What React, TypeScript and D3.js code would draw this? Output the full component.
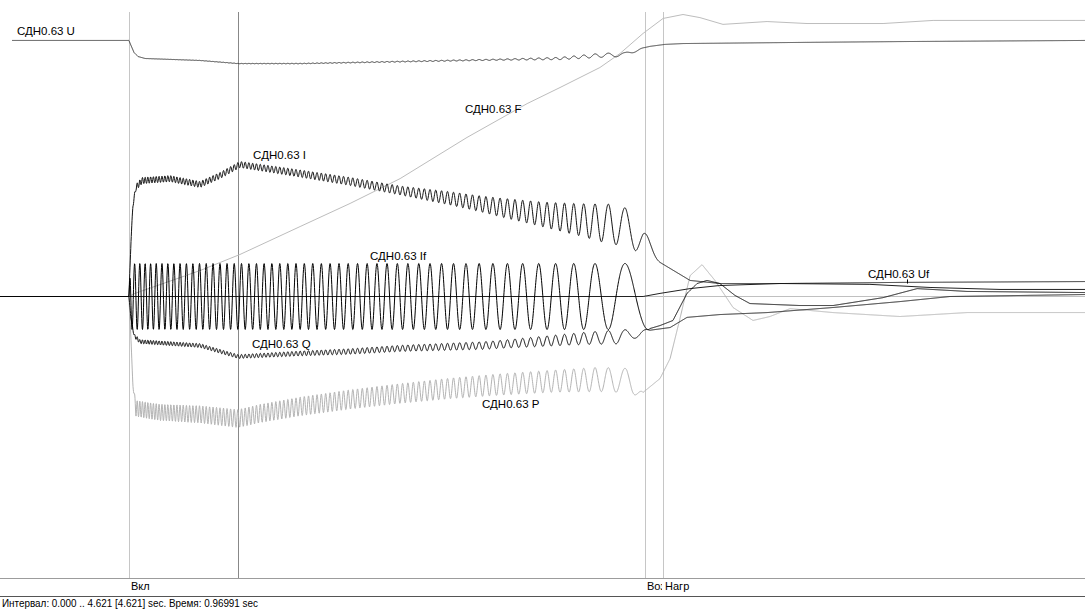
import { useMemo } from "react";
import * as d3 from "d3";

const width = 1085;
const height = 610;
const plot = { top: 12, bottom: 578 };
const tEnd = 4.621;
const dt = tEnd / width / 4;

// markers along the time axis (sec)
const markerTimes = [0.549, 1.014, 2.747, 2.824];
const markerLabels = ["Вкл", "", "Возб", "Нагр"];
const markerColors = ["#c6c6c6", "#888888", "#c6c6c6", "#c6c6c6"];

// switching on / pull into synchronism
const tOn = 0.549;
const tSync = 2.768;
const tAnchor = 2.662; // last If maximum

// If slip period (sec)
const ifPeriodT = [0.549, 0.809, 1.065, 1.384, 1.704, 1.917, 2.13, 2.342, 2.449, 2.534, 2.619, 2.726];
const ifPeriod = [0.0213, 0.0277, 0.0319, 0.0371, 0.0447, 0.0511, 0.0618, 0.0724, 0.0809, 0.1022, 0.1363, 0.213];
const ifAmpT = [0.549, 0.556, 4.621];
const ifAmp = [0, 0.117, 0.117];
// If after synchronism
const ifPostT = [2.768, 2.811, 2.866, 2.926, 2.969, 3.011, 3.066, 3.13, 3.194, 3.407, 3.548, 3.761, 3.906, 4.118, 4.621];
const ifPost = [-0.113, -0.103, -0.085, 0.011, 0.046, 0.057, 0.046, 0.004, -0.025, -0.032, -0.032, -0.004, 0.028, 0.018, 0.014];

// U
const uT = [0.051, 0.549, 0.558, 0.571, 0.588, 0.618, 0.852, 1.014, 1.278, 1.704, 2.13, 2.385, 2.555, 2.662, 2.726, 2.768, 2.832, 2.909, 3.407, 3.833, 4.621];
const uV = [0.908, 0.908, 0.89, 0.865, 0.851, 0.844, 0.837, 0.826, 0.826, 0.833, 0.84, 0.844, 0.855, 0.858, 0.879, 0.887, 0.894, 0.897, 0.901, 0.904, 0.908];
const uRipT = [0.549, 2.13, 2.385, 2.555, 2.69, 2.747];
const uRip = [0.0, 0.002, 0.004, 0.007, 0.007, 0];

// F
const fT = [0, 0.549, 0.575, 0.852, 1.022, 1.278, 1.491, 1.704, 1.989, 2.245, 2.385, 2.555, 2.641, 2.739, 2.824, 2.909, 2.981, 3.079, 3.267, 3.437, 3.761, 3.974, 4.621];
const fV = [0, 0, 0.011, 0.092, 0.149, 0.248, 0.33, 0.418, 0.564, 0.684, 0.741, 0.812, 0.862, 0.933, 0.986, 1.0, 0.989, 0.965, 0.975, 0.968, 0.968, 0.979, 0.979];

// I
const iT = [0, 0.549, 0.558, 0.566, 0.579, 0.605, 0.724, 0.852, 0.937, 1.022, 1.278, 1.491, 1.704, 1.917, 2.13, 2.342, 2.555, 2.662, 2.739, 2.781, 2.811, 2.939, 3.066, 3.322, 3.833, 4.621];
const iV = [0, 0, 0.199, 0.323, 0.387, 0.411, 0.418, 0.397, 0.429, 0.468, 0.436, 0.408, 0.376, 0.348, 0.316, 0.287, 0.262, 0.248, 0.209, 0.156, 0.121, 0.057, 0.046, 0.046, 0.05, 0.053];
const iRipT = [0.549, 0.579, 1.022, 1.704, 2.045, 2.3, 2.47, 2.598, 2.705, 2.768, 2.811];
const iRip = [0, 0.011, 0.011, 0.016, 0.028, 0.043, 0.057, 0.071, 0.064, 0.02, 0];

// Q
const qT = [0, 0.549, 0.558, 0.571, 0.596, 0.852, 1.014, 1.278, 1.491, 1.704, 2.057, 2.483, 2.653, 2.756, 2.854, 2.926, 3.066, 3.267, 3.548, 3.833, 4.046, 4.621];
const qV = [0, 0, -0.078, -0.138, -0.16, -0.174, -0.213, -0.202, -0.195, -0.184, -0.174, -0.149, -0.142, -0.121, -0.11, -0.074, -0.064, -0.057, -0.039, -0.018, 0, 0.007];
const qRipT = [0.549, 0.579, 1.022, 1.704, 2.13, 2.47, 2.641, 2.726, 2.768];
const qRip = [0, 0.007, 0.007, 0.011, 0.014, 0.021, 0.025, 0.014, 0];

// P
const pT = [0, 0.549, 0.558, 0.566, 0.579, 0.681, 0.852, 1.014, 1.107, 1.278, 1.491, 1.704, 1.917, 2.13, 2.342, 2.555, 2.67, 2.739, 2.811, 2.854, 2.896, 2.939, 2.99, 3.045, 3.122, 3.207, 3.279, 3.365, 3.548, 3.833, 4.118, 4.621];
const pV = [0, 0, -0.156, -0.316, -0.397, -0.411, -0.418, -0.433, -0.415, -0.39, -0.365, -0.344, -0.326, -0.312, -0.301, -0.294, -0.298, -0.34, -0.291, -0.22, -0.078, 0.074, 0.113, 0.057, -0.039, -0.085, -0.071, -0.043, -0.057, -0.071, -0.057, -0.057];
const pRipT = [0.566, 0.579, 1.022, 1.704, 2.342, 2.555, 2.69, 2.739];
const pRip = [0, 0.028, 0.032, 0.035, 0.039, 0.043, 0.043, 0];

// Uf
const ufT = [0, 2.739, 2.811, 2.939, 3.066, 3.322, 3.705, 3.961, 4.259, 4.621];
const ufV = [0, 0, 0.011, 0.028, 0.039, 0.046, 0.043, 0.032, 0.025, 0.025];

// trace labels: name, time, value of baseline
const labelNames = ["СДН0.63 U", "СДН0.63 F", "СДН0.63 I", "СДН0.63 If", "СДН0.63 Uf", "СДН0.63 Q", "СДН0.63 P"];
const labelTimes = [0.072, 1.98, 1.078, 1.576, 3.697, 1.073, 2.053];
const labelValues = [0.926, 0.652, 0.489, 0.128, 0.064, -0.181, -0.397];

const statusText = "Интервал: 0.000 .. 4.621 [4.621] sec.  Время: 0.96991 sec";

const interp = (ts: number[], vs: number[]) =>
  d3.scaleLinear().domain(ts).range(vs).clamp(true);

const App = () => {
  const x = d3.scaleLinear().domain([0, tEnd]).range([0, width]);
  // half-pixel offset keeps the flat lines crisp
  const y = d3.scaleLinear().domain([-1, 1]).range([plot.bottom + 0.5, 14.5]);

  const traces = useMemo(() => {
    const times = d3.range(0, tEnd + dt / 2, dt);
    const periodAt = interp(ifPeriodT, ifPeriod);
    const phi: number[] = [0];
    for (let i = 1; i < times.length; i++) {
      phi.push(phi[i - 1] + (2 * Math.PI * dt) / periodAt(times[i] - dt / 2));
    }
    const a = phi[Math.round(tAnchor / dt)];
    const ph = phi.map((p) => p - a);

    const ripple = (mt: number[], mv: number[], rt: number[], rv: number[], t0 = 0) => {
      const m = interp(mt, mv);
      const r = interp(rt, rv);
      return times
        .map((t, i) => [t, m(t) + r(t) * Math.cos(2 * ph[i])] as [number, number])
        .filter((d) => d[0] >= t0);
    };

    const ampAt = interp(ifAmpT, ifAmp);
    const iSync = Math.round(tSync / dt);
    const vSync = ampAt(tSync) * Math.cos(ph[iSync]);
    const post = interp(ifPostT, [vSync, ...ifPost.slice(1)]);
    const ifData = times.map((t, i) => {
      if (t < tOn) return [t, 0] as [number, number];
      if (i < iSync) return [t, ampAt(t) * Math.cos(ph[i])] as [number, number];
      return [t, post(t)] as [number, number];
    });

    const simple = (ts: number[], vs: number[]) => ts.map((t, i) => [t, vs[i]] as [number, number]);

    return {
      u: ripple(uT, uV, uRipT, uRip, uT[0]),
      f: simple(fT, fV),
      i: ripple(iT, iV, iRipT, iRip),
      q: ripple(qT, qV, qRipT, qRip),
      p: ripple(pT, pV, pRipT, pRip),
      uf: simple(ufT, ufV),
      ifd: ifData,
    };
  }, []);

  const line = d3
    .line<[number, number]>()
    .x((d) => x(d[0]))
    .y((d) => y(d[1]));

  const font = "'Liberation Sans', Arial, sans-serif";

  return (
    <svg
      width={width}
      height={height}
      style={{ position: "absolute", left: 0, top: 0, background: "#fff" }}
    >
      <rect width={width} height={height} fill="#fff" />
      <defs>
        {markerTimes.map((t, i) => (
          <clipPath id={`mk${i}`} key={i}>
            <rect
              x={x(t)}
              y={plot.bottom}
              width={(i < markerTimes.length - 1 ? x(markerTimes[i + 1]) : width) - x(t) - 1}
              height={18}
            />
          </clipPath>
        ))}
      </defs>

      {/* zero axis */}
      <line x1={0} x2={width} y1={y(0)} y2={y(0)} stroke="#c0c0c0" />

      {/* markers */}
      {markerTimes.map((t, i) => (
        <line
          key={i}
          x1={Math.round(x(t)) + 0.5}
          x2={Math.round(x(t)) + 0.5}
          y1={plot.top}
          y2={plot.bottom}
          stroke={markerColors[i]}
        />
      ))}

      {/* light traces */}
      <path d={line(traces.f) ?? ""} fill="none" stroke="#bdbdbd" strokeWidth={1} />
      <path d={line(traces.p) ?? ""} fill="none" stroke="#b3b3b3" strokeWidth={1} />

      {/* dark traces */}
      <path d={line(traces.uf) ?? ""} fill="none" stroke="#222" strokeWidth={1} />
      <path d={line(traces.q) ?? ""} fill="none" stroke="#111" strokeWidth={1} />
      <path d={line(traces.i) ?? ""} fill="none" stroke="#111" strokeWidth={1} />
      <path d={line(traces.ifd) ?? ""} fill="none" stroke="#000" strokeWidth={1} />
      <path d={line(traces.u) ?? ""} fill="none" stroke="#333" strokeWidth={1} />

      {/* trace labels */}
      {labelNames.map((n, i) => (
        <text
          key={n}
          x={x(labelTimes[i])}
          y={y(labelValues[i])}
          fontFamily={font}
          fontSize={11.5}
          fill="#000"
        >
          {n}
        </text>
      ))}
      {/* Uf label tick */}
      <line
        x1={Math.round(x(3.863)) + 0.5}
        x2={Math.round(x(3.863)) + 0.5}
        y1={y(0.064) + 1}
        y2={y(0.046)}
        stroke="#000"
      />

      {/* bottom marker bar */}
      <line x1={0} x2={width} y1={plot.bottom + 0.5} y2={plot.bottom + 0.5} stroke="#9c9c9c" />
      {markerTimes.map((t, i) =>
        markerLabels[i] ? (
          <text
            key={i}
            x={x(t) + 2}
            y={590}
            fontFamily={font}
            fontSize={11}
            fill="#000"
            clipPath={`url(#mk${i})`}
          >
            {markerLabels[i]}
          </text>
        ) : null
      )}
      <line x1={0} x2={width} y1={596.5} y2={596.5} stroke="#555" />
      <text
        x={2}
        y={607}
        fontFamily={font}
        fontSize={10.5}
        textLength={256}
        lengthAdjust="spacingAndGlyphs"
        fill="#000"
      >
        {statusText}
      </text>
    </svg>
  );
};

export default App;
